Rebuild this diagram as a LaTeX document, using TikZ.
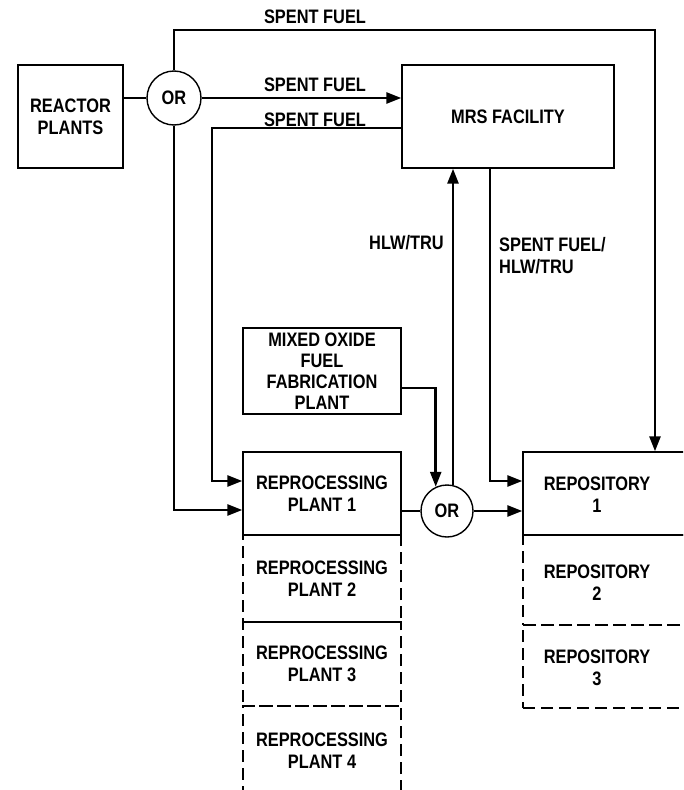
\documentclass[tikz,border=0pt]{standalone}
\usepackage{fontspec}
\setmainfont{Liberation Sans}[FakeStretch=0.84]
\usetikzlibrary{arrows.meta}
\tikzset{
  tfont/.style={font=\fontsize{19.5}{22}\selectfont\bfseries},
  box/.style={draw, line width=1.4pt, rectangle, inner sep=0pt, align=center, tfont},
  dbox/.style={draw, line width=1.4pt, dash pattern=on 12pt off 6pt, rectangle, inner sep=0pt, align=center, tfont},
  orc/.style={draw, line width=1.4pt, circle, inner sep=0pt, tfont},
  conn/.style={line width=2.6pt},
  arr/.style={line width=2.6pt, -{Triangle[length=15pt,width=11pt]}},
  lbl/.style={tfont, inner sep=0pt, align=center}
}
\begin{document}
\begin{tikzpicture}[x=1pt,y=-1pt]
\useasboundingbox (0,0) rectangle (683,790);
\clip (0,0) rectangle (683,790);
\fill[white] (0,0) rectangle (683,790);
% boxes
\node[box, minimum width=105pt, minimum height=103pt] (reactor) at (70.5,116.5) {REACTOR\\PLANTS};
\node[orc, minimum size=54pt] (or1) at (174,98) {OR};
\node[box, minimum width=212pt, minimum height=103pt] (mrs) at (508,116.5) {MRS FACILITY};
\node[box, minimum width=158pt, minimum height=86pt, font=\fontsize{19.5}{21}\selectfont\bfseries] (mox) at (322,371) {MIXED OXIDE\\FUEL\\FABRICATION\\PLANT};
\node[dbox, minimum width=158pt, minimum height=87pt] (rp2) at (322,578.5) {REPROCESSING\\PLANT 2};
\node[dbox, minimum width=158pt, minimum height=84pt] (rp3) at (322,664) {REPROCESSING\\PLANT 3};
\node[dbox, minimum width=158pt, minimum height=90pt] (rp4) at (322,751) {REPROCESSING\\PLANT 4};
\node[box, minimum width=158pt, minimum height=83pt, fill=white] (rp1) at (322,493.5) {REPROCESSING\\PLANT 1};
\node[orc, minimum size=52pt] (or2) at (447,511) {OR};
\node[dbox, minimum width=172pt, minimum height=90pt] (rep2) at (609,580) {};
\node[dbox, minimum width=172pt, minimum height=83pt] (rep3) at (609,666.5) {};
\node[box, minimum width=172pt, minimum height=83pt, fill=white] (rep1) at (609,493.5) {};
\node[lbl] (rep1t) at (597,495) {REPOSITORY\\1};
\node[lbl] (rep2t) at (597,583) {REPOSITORY\\2};
\node[lbl] (rep3t) at (597,668) {REPOSITORY\\3};
% coordinates
\coordinate (tr) at (655,30);
\coordinate (lft) at (212,128);
\coordinate (y481) at (0,481);
\coordinate (y510) at (0,510);
\coordinate (y388) at (0,388);
\coordinate (mx) at (490,0);
% connectors
\draw[conn] (reactor.east |- or1.west) -- (or1.west);
\draw[arr] (or1.north) |- (tr) -- (tr |- rep1.north);
\draw[arr] (or1.east) -- (or1.east -| mrs.west);
\draw[arr] (mrs.west |- lft) -- (lft) |- (rp1.west |- y481);
\draw[arr] (or1.south) |- (rp1.west |- y510);
\draw[arr] (mox.east |- y388) -| (or2.115);
\draw[arr] (or2.77) -- (or2.77 |- mrs.south);
\draw[conn] (rp1.east |- or2.west) -- (or2.west);
\draw[arr] (or2.east) -- (or2.east -| rep1.west);
\draw[arr] (mx |- mrs.south) |- (rep1.west |- y481);
% labels
\node[lbl] (l1) at (315,17) {SPENT FUEL};
\node[lbl] (l2) at (315,85) {SPENT FUEL};
\node[lbl] (l3) at (315,120) {SPENT FUEL};
\node[lbl, anchor=east] (l4) at (444,243) {HLW/TRU};
\node[lbl, anchor=west, align=left] (l5) at (499,256) {SPENT FUEL/\\HLW/TRU};
\end{tikzpicture}
\end{document}
